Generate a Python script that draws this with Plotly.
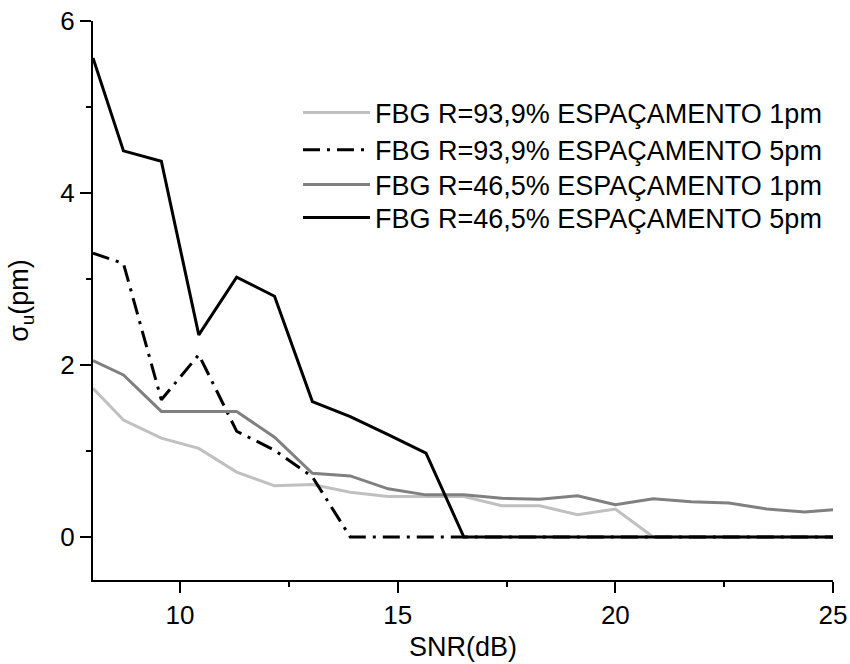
import plotly.graph_objects as go

snr = [8.0, 8.70, 9.57, 10.43, 11.30, 12.17, 13.04, 13.91, 14.78, 15.65, 16.52,
       17.39, 18.26, 19.13, 20.0, 20.87, 21.74, 22.61, 23.48, 24.35, 25.0]

r939_1pm = [1.73, 1.36, 1.15, 1.03, 0.755, 0.595, 0.61, 0.52, 0.47, 0.47, 0.47,
            0.363, 0.363, 0.26, 0.325, 0.0, 0.0, 0.0, 0.0, 0.0, 0.0]
r939_5pm = [3.30, 3.18, 1.595, 2.12, 1.23, 1.01, 0.70, 0.0, 0.0, 0.0, 0.0,
            0.0, 0.0, 0.0, 0.0, 0.0, 0.0, 0.0, 0.0, 0.0, 0.0]
r465_1pm = [2.05, 1.885, 1.46, 1.46, 1.46, 1.16, 0.74, 0.71, 0.56, 0.49, 0.49,
            0.45, 0.44, 0.48, 0.375, 0.445, 0.41, 0.395, 0.325, 0.29, 0.317]
r465_5pm = [5.57, 4.49, 4.37, 2.35, 3.02, 2.80, 1.575, 1.40, 1.19, 0.975, 0.0,
            0.0, 0.0, 0.0, 0.0, 0.0, 0.0, 0.0, 0.0, 0.0, 0.0]

names = ["FBG R=93,9% ESPAÇAMENTO 1pm", "FBG R=93,9% ESPAÇAMENTO 5pm",
         "FBG R=46,5% ESPAÇAMENTO 1pm", "FBG R=46,5% ESPAÇAMENTO 5pm"]

FONT = "Liberation Sans, Arial, sans-serif"
FS = 27
TFS = 26

fig = go.Figure()
fig.add_trace(go.Scatter(x=snr, y=r939_1pm, mode="lines", name=names[0], legend="legend",
                         line=dict(color="#c0c0c0", width=3)))
fig.add_trace(go.Scatter(x=snr, y=r939_5pm, mode="lines", name=names[1], legend="legend2",
                         line=dict(color="#000000", width=3, dash="17px,7px,3px,7px")))
fig.add_trace(go.Scatter(x=snr, y=r465_1pm, mode="lines", name=names[2], legend="legend3",
                         line=dict(color="#808080", width=3)))
fig.add_trace(go.Scatter(x=snr, y=r465_5pm, mode="lines", name=names[3], legend="legend4",
                         line=dict(color="#000000", width=3)))

def leg(yc):
    return dict(x=0.277, y=yc, xanchor="left", yanchor="middle",
                bgcolor="rgba(0,0,0,0)", font=dict(size=FS, family=FONT, color="black"),
                itemwidth=67, borderwidth=0)

fig.update_layout(
    width=850, height=664,
    margin=dict(l=93, r=17, t=21, b=84, autoexpand=False),
    paper_bgcolor="white", plot_bgcolor="white",
    font=dict(family=FONT, size=TFS, color="black"),
    showlegend=True,
    legend=leg(0.8354),
    legend2=leg(0.769),
    legend3=leg(0.7066),
    legend4=leg(0.6476),
)
fig.update_xaxes(
    range=[8, 25], showgrid=False, zeroline=False, automargin=False,
    showline=True, linecolor="black", linewidth=2,
    ticks="outside", ticklen=11, tickwidth=2, tickcolor="black",
    tick0=0, dtick=5, ticklabeloverflow="allow",
    minor=dict(ticks="outside", ticklen=5, tickwidth=2, tickcolor="black", dtick=2.5, showgrid=False),
    tickfont=dict(size=TFS),
    title=dict(text="SNR(dB)", font=dict(size=FS), standoff=8),
)
fig.update_yaxes(
    range=[-0.5, 6], showgrid=False, zeroline=False, automargin=False,
    showline=True, linecolor="black", linewidth=2,
    ticks="outside", ticklen=11, tickwidth=2, tickcolor="black",
    tick0=0, dtick=2, ticklabeloverflow="allow",
    minor=dict(ticks="outside", ticklen=5, tickwidth=2, tickcolor="black", dtick=1, showgrid=False),
    tickfont=dict(size=TFS),
    title=dict(text="σ<sub>u</sub>(pm)", font=dict(size=FS), standoff=24),
)

fig.write_html("out.html",
               config={"displayModeBar": False},
               post_script="document.body.style.margin='0';document.body.style.overflow='hidden';")
